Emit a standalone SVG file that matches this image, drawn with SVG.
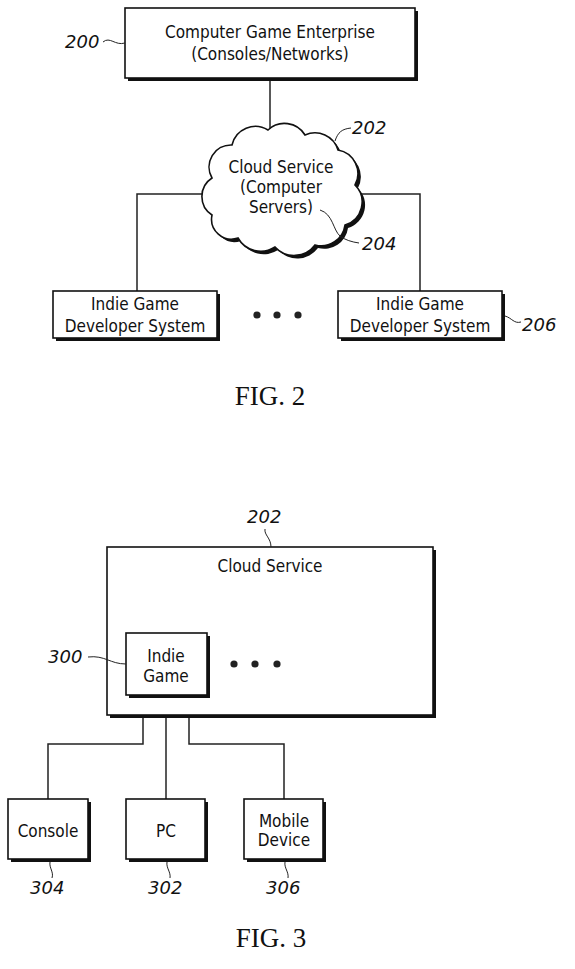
<svg xmlns="http://www.w3.org/2000/svg" width="575" height="969" viewBox="0 0 575 969">
<style>
.t{font-family:"DejaVu Sans Condensed","DejaVu Sans",Verdana,sans-serif;font-stretch:condensed;font-size:17px;fill:#111;text-anchor:middle}
.n{font-family:"DejaVu Sans",Verdana,sans-serif;font-size:18px;font-style:italic;fill:#111}
.f{font-family:"Liberation Serif","Times New Roman",serif;font-size:27px;fill:#111;text-anchor:middle}
.box{fill:#fff;stroke:#111;stroke-width:1.6}
.sh{fill:#111}
.ln{fill:none;stroke:#222;stroke-width:1.5}
.ld{fill:none;stroke:#222;stroke-width:1}
</style>
<defs>
<path id="cloud" d="M212,178 A22,22 0 0 1 232,145 A24,24 0 0 1 268,130 A24,24 0 0 1 305,135 A24,24 0 0 1 338,150 A24,24 0 0 1 355,185 A24,24 0 0 1 345,225 A24,24 0 0 1 315,245 A26,26 0 0 1 275,247 A26,26 0 0 1 238,238 A20,20 0 0 1 212,215 A22,22 0 0 1 212,178 Z"/>
</defs>
<g id="connectors">
<path class="ln" d="M270,80 V140"/>
<path class="ln" d="M137,291 V194 H212"/>
<path class="ln" d="M420,291 V194 H355"/>
<path class="ln" d="M143,695 V744 H48 V799"/>
<path class="ln" d="M166,695 V799"/>
<path class="ln" d="M189,695 V744 H284 V799"/>
</g>
<g id="n200">
<rect class="sh" x="128" y="11" width="290" height="70"/>
<rect class="box" x="125" y="8" width="290" height="70"/>
<text class="t" x="270" y="38">Computer Game Enterprise</text>
<text class="t" x="270" y="60">(Consoles/Networks)</text>
<text class="n" x="65" y="48">200</text>
<path class="ld" d="M103,42 C110,36 115,46 125,43"/>
</g>
<g id="n202">
<use href="#cloud" class="sh" transform="translate(3,3)"/>
<use href="#cloud" fill="#fff" stroke="#111" stroke-width="1.6"/>
<text class="t" x="281" y="173">Cloud Service</text>
<text class="t" x="281" y="193">(Computer</text>
<text class="t" x="281" y="213">Servers)</text>
<text class="n" x="352" y="134">202</text>
<path class="ld" d="M335,141 C338,132 342,129 351,128"/>
<text class="n" x="362" y="250">204</text>
<path class="ld" d="M320,210 C333,214 333,230 340,236 C345,240 352,242 359,243"/>
</g>
<g id="n206a">
<rect class="sh" x="56" y="294" width="164" height="47"/>
<rect class="box" x="53" y="291" width="164" height="47"/>
<text class="t" x="135" y="310">Indie Game</text>
<text class="t" x="135" y="332">Developer System</text>
</g>
<g id="dots2">
<circle cx="257" cy="315" r="3.6" fill="#222"/>
<circle cx="277" cy="315" r="3.6" fill="#222"/>
<circle cx="298" cy="315" r="3.6" fill="#222"/>
</g>
<g id="n206">
<rect class="sh" x="341" y="294" width="164" height="47"/>
<rect class="box" x="338" y="291" width="164" height="47"/>
<text class="t" x="420" y="310">Indie Game</text>
<text class="t" x="420" y="332">Developer System</text>
<text class="n" x="522" y="331">206</text>
<path class="ld" d="M505,316 C512,318 514,324 521,322"/>
</g>
<text class="f" x="270" y="405">FIG. 2</text>
<g id="n202b">
<rect class="sh" x="110" y="550" width="326" height="168"/>
<rect class="box" x="107" y="547" width="326" height="168"/>
<text class="t" x="270" y="572">Cloud Service</text>
<text class="n" x="247" y="523">202</text>
<path class="ld" d="M265,529 C264,535 271,538 271,547"/>
</g>
<g id="n300">
<rect class="sh" x="129" y="636" width="81" height="62"/>
<rect class="box" x="126" y="633" width="81" height="62"/>
<text class="t" x="166" y="662">Indie</text>
<text class="t" x="166" y="682">Game</text>
<text class="n" x="48" y="663">300</text>
<path class="ld" d="M88,657 C105,655 110,664 126,664"/>
</g>
<g id="dots3">
<circle cx="234" cy="664" r="3.6" fill="#222"/>
<circle cx="255" cy="664" r="3.6" fill="#222"/>
<circle cx="277" cy="664" r="3.6" fill="#222"/>
</g>
<g id="n304">
<rect class="sh" x="11" y="802" width="80" height="60"/>
<rect class="box" x="8" y="799" width="80" height="60"/>
<text class="t" x="48" y="837">Console</text>
<text class="n" x="30" y="894">304</text>
<path class="ld" d="M50,862 C49,868 54,872 52,878"/>
</g>
<g id="n302">
<rect class="sh" x="129" y="802" width="79" height="60"/>
<rect class="box" x="126" y="799" width="79" height="60"/>
<text class="t" x="166" y="837">PC</text>
<text class="n" x="148" y="894">302</text>
<path class="ld" d="M167,862 C166,868 171,872 170,878"/>
</g>
<g id="n306">
<rect class="sh" x="247" y="802" width="79" height="60"/>
<rect class="box" x="244" y="799" width="79" height="60"/>
<text class="t" x="284" y="827">Mobile</text>
<text class="t" x="284" y="846">Device</text>
<text class="n" x="266" y="894">306</text>
<path class="ld" d="M285,862 C284,868 289,872 288,878"/>
</g>
<text class="f" x="271" y="947">FIG. 3</text>
</svg>
